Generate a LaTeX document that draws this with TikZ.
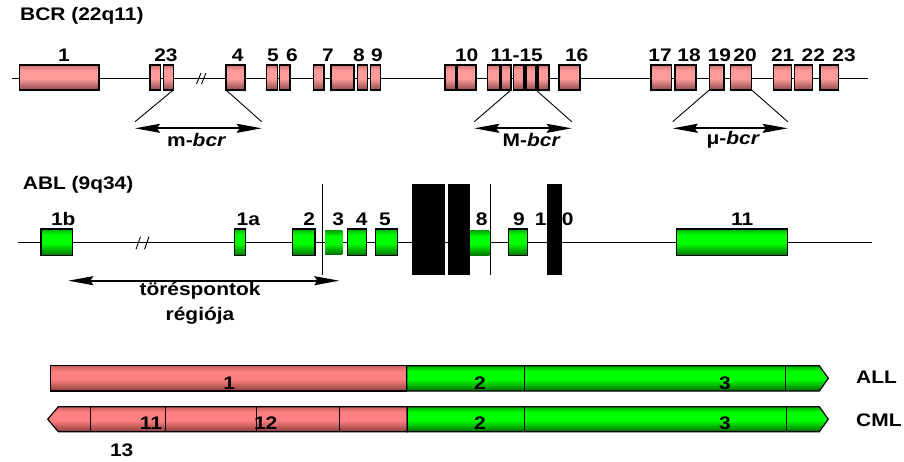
\documentclass[tikz,border=0pt]{standalone}
\usepackage{fontspec}
\setmainfont{Liberation Sans}[FakeStretch=1.15]
\usetikzlibrary{arrows.meta}
\definecolor{exPink}{RGB}{255,155,155}
\definecolor{exPinkT}{RGB}{205,115,115}
\definecolor{exPinkD}{RGB}{140,75,75}
\definecolor{barPink}{RGB}{255,128,128}
\definecolor{barPinkT}{RGB}{200,95,95}
\definecolor{barPinkD}{RGB}{140,60,60}
\definecolor{exGreen}{RGB}{0,255,0}
\definecolor{exGreenT}{RGB}{0,170,0}
\definecolor{exGreenD}{RGB}{0,110,0}
\pgfdeclareverticalshading{pinkgrad}{100bp}{color(0bp)=(exPinkD); color(25bp)=(exPinkD); color(48bp)=(exPink); color(64bp)=(exPink); color(75bp)=(exPinkT); color(100bp)=(exPinkT)}
\pgfdeclareverticalshading{bargrad}{100bp}{color(0bp)=(barPinkD); color(25bp)=(barPinkD); color(48bp)=(barPink); color(64bp)=(barPink); color(75bp)=(barPinkT); color(100bp)=(barPinkT)}
\pgfdeclareverticalshading{greengrad}{100bp}{color(0bp)=(exGreenD); color(25bp)=(exGreenD); color(48bp)=(exGreen); color(64bp)=(exGreen); color(75bp)=(exGreenT); color(100bp)=(exGreenT)}
\tikzset{
  every node/.style={font=\fontsize{18.2}{21}\selectfont\bfseries, inner sep=0pt},
  pinkex/.style={draw=black, line width=1.2pt, shade, shading=pinkgrad, minimum height=25pt, outer sep=0pt},
  greenex/.style={draw=black, line width=1.2pt, shade, shading=greengrad, minimum height=26.7pt, outer sep=0pt},
  greenbare/.style={shade, shading=greengrad, outer sep=0pt},
  blackbar/.style={fill=black, minimum height=91pt, outer sep=0pt},
  gene/.style={line width=1pt},
  thinline/.style={line width=0.9pt},
  dbl/.style={line width=1.8pt, {Stealth[length=25pt,width=9pt,inset=3pt]}-{Stealth[length=25pt,width=9pt,inset=3pt]}},
  lbl/.style={anchor=center},
  pinkbar/.style={draw=black, line width=1.2pt, shading=bargrad},
  greenbar/.style={draw=black, line width=1.2pt, shading=greengrad},
}
\begin{document}
\begin{tikzpicture}[x=1pt,y=-1pt]
\useasboundingbox (0,0) rectangle (904,461);
% ---------------- BCR ----------------
\node[anchor=west] (bcrtitle) at (20,15.7) {BCR (22q11)};
\draw[gene] (12,78) -- (868,78);
\foreach \a/\b/\n in {19.5/99/1, 150/160.7/2, 163.3/173.3/3, 226/245/4, 266.7/277.3/5,
  279.3/290/6, 313.3/324/7, 331/354/8a, 357.3/367.3/8, 370.7/380.7/9, 445/456/10a,
  457.3/476/10, 487.7/499.3/11, 501/511/12, 513.3/524/13, 526/536/14, 538/549/15,
  559/580/16, 651/671.7/17, 675/696/18, 709.3/724/19, 730.7/751.7/20, 773.3/791.7/21,
  794.3/812.7/22, 820/838.3/23}
  \node[pinkex, minimum width={(\b-\a)*1pt}] (bcr\n) at ({(\a+\b)/2},77.5) {};
\foreach \x/\t/\n in {64/1/1, 166/23/23, 237.7/4/4, 273/5/5, 292/6/6, 328/7/7, 359/8/8,
  377/9/9, 466.7/10/10, 516.7/11-15/1115, 576.7/16/16, 660/17/17, 689/18/18, 719.3/19/19,
  745/20/20, 782.7/21/21, 813.3/22/22, 844/23/23b}
  \node[lbl] (bl\n) at (\x,55) {\t};
% break mark
\draw[thinline] (196.5,84) -- (201,73) (201.5,84) -- (206,73);
% m-bcr
\coordinate (mL) at (135,121.7); \coordinate (mR) at (261.7,121.7);
\coordinate (mAL) at (135,128.3); \coordinate (mAR) at (261.7,128.3);
\draw[thinline] (bcr3.south east) -- (mL);
\draw[thinline] (bcr4.south west) -- (mR);
\draw[dbl] (mAL) -- (mAR);
\node (mbcr) at (196.7,139.5) {m-\textit{bcr}};
% M-bcr
\coordinate (ML) at (474.3,121.7); \coordinate (MR) at (571.7,121.7);
\coordinate (MAL) at (474.3,128.3); \coordinate (MAR) at (571.7,128.3);
\draw[thinline] (bcr12.south east) -- (ML);
\draw[thinline] (bcr14.south east) -- (MR);
\draw[dbl] (MAL) -- (MAR);
\node (Mbcr) at (531.7,139.5) {M-\textit{bcr}};
% mu-bcr
\coordinate (uL) at (672.7,121.7); \coordinate (uR) at (787.7,121.7);
\coordinate (uAL) at (672.7,128.3); \coordinate (uAR) at (787.7,128.3);
\draw[thinline] (bcr19.south west) -- (uL);
\draw[thinline] (bcr20.south east) -- (uR);
\draw[dbl] (uAL) -- (uAR);
\node (ubcr) at (733.3,139.5) {μ-\textit{bcr}};
% ---------------- ABL ----------------
\node[anchor=west] (abltitle) at (22.7,185) {ABL (9q34)};
\draw[gene] (18.3,242.3) -- (871.7,242.3);
\draw[thinline] (136,249.3) -- (140.5,236.7) (144.5,249.3) -- (149,236.7);
\foreach \a/\b/\n in {41/72.3/1b, 234.3/245.7/1a, 292.3/315/2, 347.3/366.7/4,
  375.7/397.3/5, 508.3/527.7/9, 676.7/787.7/11}
  \node[greenex, minimum width={(\b-\a)*1pt}] (abl\n) at ({(\a+\b)/2},242.3) {};
\node[greenbare, minimum width=17.3pt, minimum height=23.3pt] (abl3) at (333.65,242.6) {};
\node[greenbare, minimum width=19.3pt, minimum height=25pt] (abl8) at (479.65,243.2) {};
\foreach \x/\t/\n in {63.3/1b/1b, 248.3/1a/1a, 309.3/2/2, 338.3/3/3, 361.7/4/4, 385/5/5,
  481.7/8/8, 519/9/9, 540.7/1/10a, 567.7/0/10b, 742.3/11/11}
  \node[lbl] (al\n) at (\x,219.3) {\t};
\node[blackbar, minimum width=33pt] (blk1) at (428.8,229.5) {};
\node[blackbar, minimum width=22.5pt] (blk2) at (458.75,229.5) {};
\node[blackbar, minimum width=15pt] (blk3) at (554.5,229.5) {};
\coordinate (v1t) at (322.7,184); \coordinate (v1b) at (322.7,275);
\coordinate (v2t) at (490,184); \coordinate (v2b) at (490,275);
\draw[thinline] (v1t) -- (v1b);
\draw[thinline] (v2t) -- (v2b);
\coordinate (tL) at (68.3,280.7); \coordinate (tR) at (339.3,280.7);
\draw[dbl] (tL) -- (tR);
\node (tores) at (200,291) {töréspontok};
\node (regio) at (200,316) {régiója};
% ---------------- fusion transcripts ----------------
% ALL
\shade[pinkbar] (50.7,365.7) rectangle (406.7,391);
\shade[greenbar] (406.7,365.7) -- (819.3,365.7) -- (828.3,378.3) -- (819.3,391) -- (406.7,391) -- cycle;
\draw[thinline] (524.3,365.7) -- (524.3,391) (785.7,365.7) -- (785.7,391);
\node (all1) at (229.3,383.5) {1};
\node (all2) at (480,383.5) {2};
\node (all3) at (725,383.5) {3};
\node[anchor=west] (ALL) at (856,377) {ALL};
% CML
\shade[pinkbar] (407.3,406.7) -- (58.3,406.7) -- (47.7,419.2) -- (58.3,431.7) -- (407.3,431.7) -- cycle;
\shade[greenbar] (407.3,406.7) -- (819.3,406.7) -- (828.3,419.2) -- (819.3,431.7) -- (407.3,431.7) -- cycle;
\draw[thinline] (90,406.7) -- (90,431.7) (165.7,406.7) -- (165.7,431.7)
  (256.7,406.7) -- (256.7,431.7) (339.3,406.7) -- (339.3,431.7)
  (524.3,406.7) -- (524.3,431.7) (786.7,406.7) -- (786.7,431.7);
\node (cml11) at (151,423.5) {11};
\node (cml12) at (265.7,423.5) {12};
\node (cml13) at (121.7,450) {13};
\node (cml2) at (480,423.5) {2};
\node (cml3) at (725,423.5) {3};
\node[anchor=west] (CML) at (856,420) {CML};
\end{tikzpicture}
\end{document}
